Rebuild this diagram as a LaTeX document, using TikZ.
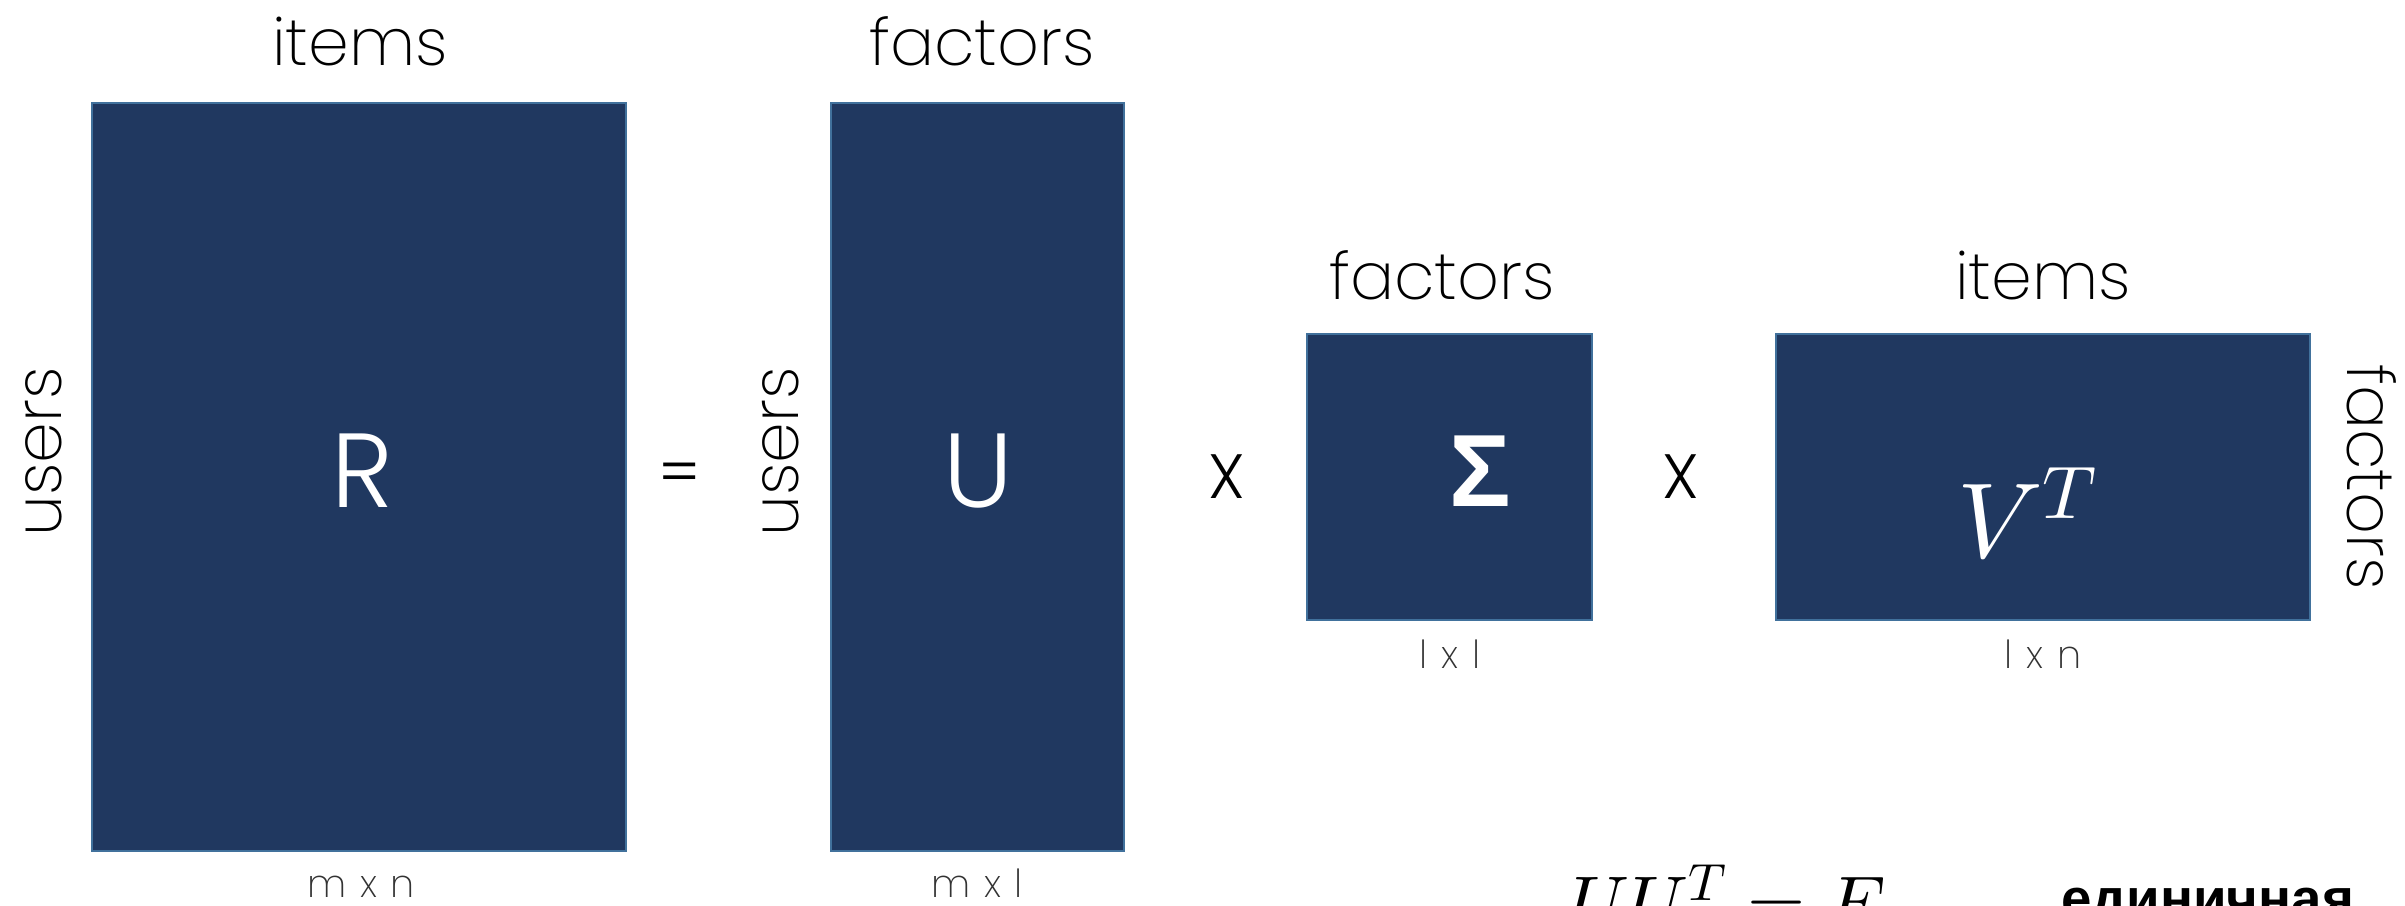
\documentclass[tikz,border=0pt]{standalone}
\usepackage{fontspec}
\usepackage{unicode-math}
\newfontfamily\thinfont{Poppins ExtraLight}
\newfontfamily\lightfont{Poppins Light}
\newfontfamily\arialfont{Liberation Sans}
\definecolor{boxfill}{RGB}{32,56,96}
\definecolor{boxedge}{RGB}{65,113,156}
\tikzset{every picture/.style={line width=0.75pt}}
\tikzset{
  matbox/.style={draw=boxedge,fill=boxfill,line width=1.5pt,inner sep=0pt},
  headlabel/.style={anchor=base,inner sep=0pt,font=\thinfont\fontsize{49}{50}\selectfont},
  dimlabel/.style={anchor=base,inner sep=0pt,text=black!80,font=\thinfont\fontsize{29}{30}\selectfont},
  bigletter/.style={text=white,inner sep=0pt,font=\lightfont\fontsize{79}{80}\selectfont},
  opsign/.style={inner sep=0pt,font=\lightfont\fontsize{47}{48}\selectfont}
}
\newcommand{\dimgap}{\hspace{0.35em}}

\begin{document}
\begin{tikzpicture}[x=0.75pt,y=0.75pt,yscale=-1,xscale=1]
\useasboundingbox (0,0) rectangle (2405,906);
\clip (0,0) rectangle (2405,906);
%Matrix boxes
\draw [matbox] (92,103) rectangle (626,851);
\node [inner sep=0pt] (R) at (359,477) {};
\draw [matbox] (831,103) rectangle (1124,851);
\node [inner sep=0pt] (U) at (977.5,477) {};
\draw [matbox] (1307,334) rectangle (1592,620);
\node [inner sep=0pt] (S) at (1449.5,477) {};
\draw [matbox] (1776,334) rectangle (2310,620);
\node [inner sep=0pt] (V) at (2043,477) {};
% Letters inside
\node [bigletter] (Rtxt) at (362,471) {R};
\node [bigletter] (Utxt) at (978,471) {U};
\node [text=white,inner sep=0pt,font=\arialfont\bfseries\fontsize{77}{78}\selectfont] (Stxt) at (1480,471) {Σ};
\node [text=white,inner sep=0pt,font=\fontsize{80}{81}\selectfont] (Vtxt) at (2028,514) {$V^T$};
% Signs between
\node [opsign] (eq) at (680,479) {=};
\node [opsign] (times1) at (1227,477) {X};
\node [opsign] (times2) at (1681,477) {X};
% Text Node
\node [headlabel] (Rtop) at (360,66) {items};
\node [headlabel] (Utop) at (982,66) {factors};
\node [headlabel] (Stop) at (1442,299) {factors};
\node [headlabel] (Vtop) at (2043,299) {items};
\node [headlabel,rotate=90] (Rside) at (61,452) {users};
\node [headlabel,rotate=90] (Uside) at (798,452) {users};
\node [headlabel,rotate=-90] (Vside) at (2347,477) {factors};
% Text Node
\node [dimlabel] (Rdim) at (361,897) {m\dimgap x\dimgap n};
\node [dimlabel] (Udim) at (977,897) {m\dimgap x\dimgap l};
\node [dimlabel] (Sdim) at (1450,668) {l\dimgap x\dimgap l};
\node [dimlabel] (Vdim) at (2043,668) {l\dimgap x\dimgap n};
% Text Node
\node [anchor=base west,inner sep=0pt,font=\fontsize{56}{57}\selectfont] (eqn) at (1570,928) {$UU^T=E$};
\node [anchor=base west,inner sep=0pt,font=\arialfont\bfseries\fontsize{41}{42}\selectfont] (unit) at (2061,917) {единичная};
\end{tikzpicture}
\end{document}
